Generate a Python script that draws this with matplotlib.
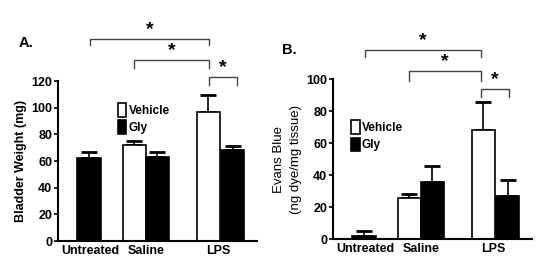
import numpy as np
import matplotlib
matplotlib.use('Agg')
import matplotlib.pyplot as plt
from matplotlib.patches import Patch

plt.rcParams['font.family'] = ['Liberation Sans', 'DejaVu Sans']

# data
categories = ['Untreated', 'Saline', 'LPS']
a_vehicle = [np.nan, 72, 97]
a_vehicle_err = [0, 3, 13]
a_gly = [62, 63, 68]
a_gly_err = [5, 4, 3]

b_vehicle = [np.nan, 26, 68]
b_vehicle_err = [0, 2, 18]
b_gly = [2, 36, 27]
b_gly_err = [3, 10, 10]

# bar positions (untreated only has a single bar)
veh_x = [np.nan, 3.3, 6.5]
gly_x = [1.35, 4.3, 7.55]
tick_x = [1.4, 3.8, 6.95]

fig = plt.figure(figsize=(5.5, 2.79), dpi=100)
axA = fig.add_axes([0.105, 0.136, 0.362, 0.573])
axB = fig.add_axes([0.605, 0.143, 0.362, 0.573])


def draw(ax, veh, veh_err, gly, gly_err, ymax, step):
    vx = [x for x, v in zip(veh_x, veh) if not np.isnan(v)]
    vv = [v for v in veh if not np.isnan(v)]
    ve = [e for e, v in zip(veh_err, veh) if not np.isnan(v)]
    ax.bar(vx, vv, width=1.0, color='white', edgecolor='black', linewidth=1.2, zorder=2)
    ax.errorbar(vx, vv, yerr=[np.zeros(len(ve)), ve], fmt='none', ecolor='black',
                elinewidth=1.2, capsize=5.5, capthick=2, zorder=1)
    ax.bar(gly_x, gly, width=1.0, color='black', edgecolor='black', linewidth=1.2, zorder=2)
    ax.errorbar(gly_x, gly, yerr=[np.zeros(len(gly_err)), gly_err], fmt='none', ecolor='black',
                elinewidth=1.2, capsize=5.5, capthick=2, zorder=1)
    ax.set_xlim(0, 8.6)
    ax.set_ylim(0, ymax)
    ax.set_yticks(np.arange(0, ymax + 1, step))
    ax.set_xticks(tick_x)
    ax.set_xticklabels(categories)
    ax.tick_params(axis='x', length=0, pad=3, labelsize=9)
    ax.tick_params(axis='y', length=3, width=1.2, pad=1, labelsize=9)
    for lab in ax.get_xticklabels() + ax.get_yticklabels():
        lab.set_fontweight('bold')
    for s in ['top', 'right']:
        ax.spines[s].set_visible(False)
    for s in ['left', 'bottom']:
        ax.spines[s].set_linewidth(1.5)


def bracket(ax, x1, x2, y, drop, star_y):
    ax.plot([x1, x1, x2, x2], [y - drop, y, y, y - drop], color='#444444', lw=1.0,
            clip_on=False)
    ax.text((x1 + x2) / 2, star_y, '*', ha='center', va='center', fontsize=14,
            fontweight='bold', clip_on=False)


draw(axA, a_vehicle, a_vehicle_err, a_gly, a_gly_err, 120, 20)
draw(axB, b_vehicle, b_vehicle_err, b_gly, b_gly_err, 100, 20)

axA.set_ylabel('Bladder Weight (mg)', fontsize=9, fontweight='bold', labelpad=3)
axB.set_ylabel('Evans Blue\n(ng dye/mg tissue)', fontsize=9.5, labelpad=3,
               linespacing=1.6)

bracket(axA, 1.4, 6.55, 152, 5, 159)
bracket(axA, 3.3, 6.55, 136, 6, 143)
bracket(axA, 6.55, 7.75, 123, 6, 130)

bracket(axB, 1.4, 6.4, 118, 4, 124)
bracket(axB, 3.3, 6.4, 105, 6, 111)
bracket(axB, 6.4, 7.6, 94, 5, 100)

handles = [Patch(facecolor='white', edgecolor='black', linewidth=1.2),
           Patch(facecolor='black', edgecolor='black', linewidth=1.2)]
axA.legend(handles, ['Vehicle', 'Gly'], loc='upper left', bbox_to_anchor=(0.25, 0.93),
           frameon=False, handlelength=0.7, handleheight=1.4, handletextpad=0.2,
           labelspacing=0.3, prop={'size': 8.5, 'weight': 'bold'})
axB.legend(handles, ['Vehicle', 'Gly'], loc='upper left', bbox_to_anchor=(0.04, 0.81),
           frameon=False, handlelength=0.7, handleheight=1.4, handletextpad=0.2,
           labelspacing=0.3, prop={'size': 8.5, 'weight': 'bold'})

fig.text(0.033, 0.845, 'A.', fontsize=10.5, fontweight='bold', va='center')
fig.text(0.513, 0.82, 'B.', fontsize=10.5, fontweight='bold', va='center')

fig.savefig('out.png', dpi=100)
